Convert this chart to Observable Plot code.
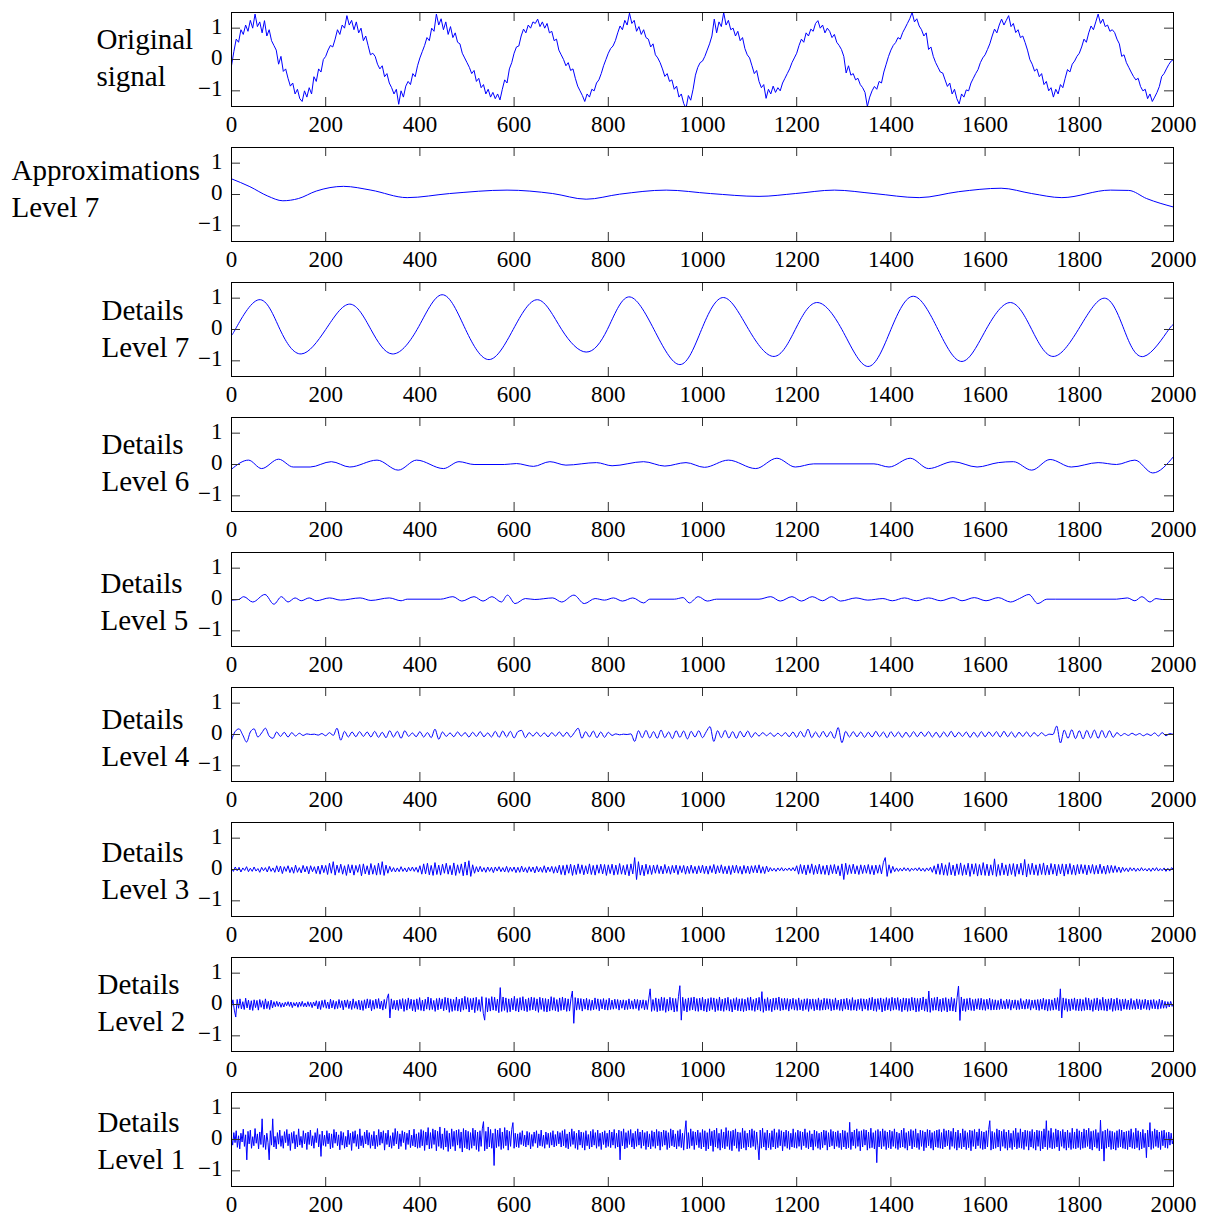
<!DOCTYPE html>
<html><head><meta charset="utf-8">
<script src="https://cdn.jsdelivr.net/npm/d3@7"></script>
<script src="https://cdn.jsdelivr.net/npm/@observablehq/plot@0.6"></script>
<style>
html,body{margin:0;background:#fff;overflow:hidden;}
#chart{width:1208px;padding-top:8px;}
#chart svg{display:block;}
</style></head><body><div id="chart"></div>
<script>
// ---------- tick labels / panel names ----------
const xTicks = [0,200,400,600,800,1000,1200,1400,1600,1800,2000];
const yTicks = [-1,0,1];
const panelNames = ["Original\nsignal","Approximations\nLevel 7","Details\nLevel 7","Details\nLevel 6","Details\nLevel 5","Details\nLevel 4","Details\nLevel 3","Details\nLevel 2","Details\nLevel 1"];

// ---------- series values (uniform samples over 0..2000, in hundredths) ----------
const originalHundredths = [
-20,25,65,55,95,80,110,90,125,100,145,105,120,85,124,75,95,60,45,30,-15,10,-38,-30,-60,-85,-75,-110,-95,-125,-134,-100,-120,-90,-110,-55,-70,-30,-40,0,
10,30,45,40,65,95,80,110,100,140,110,125,95,120,85,100,60,75,45,15,20,10,-15,-30,-20,-55,-45,-75,-90,-110,-95,-143,-100,-120,-85,-70,-80,-45,-55,-20,
5,25,45,70,60,100,90,145,110,130,95,120,80,105,70,85,55,50,20,5,-10,-25,-45,-35,-70,-60,-90,-80,-110,-95,-120,-105,-125,-110,-129,-95,-65,-75,-30,-10,
20,40,43,75,97,85,110,100,120,115,129,105,120,100,115,85,90,60,65,30,15,0,-20,-10,-35,-30,-60,-85,-100,-115,-134,-110,-120,-95,-100,-75,-65,-45,-20,0,
20,35,43,60,85,107,95,125,110,148,115,125,90,105,80,95,70,65,40,50,15,5,-10,-30,-54,-45,-70,-65,-95,-85,-120,-110,-140,-156,-115,-130,-95,-50,-25,-10,
-5,10,30,50,75,129,85,120,105,150,110,125,95,100,75,90,60,70,35,15,5,-20,-45,-35,-70,-90,-80,-124,-95,-110,-85,-105,-90,-100,-75,-60,-45,-30,-10,5,
20,45,65,55,85,75,97,90,115,124,100,110,85,100,90,70,80,55,45,32,10,-43,-20,-50,-45,-65,-60,-80,-90,-105,-150,-120,-100,-86,-95,-70,-75,-40,-15,10,
30,45,54,70,65,86,100,115,130,150,120,130,107,95,75,85,32,40,10,-10,-25,-40,-43,-65,-86,-75,-110,-95,-125,-142,-110,-120,-97,-100,-75,-60,-45,-32,-10,5,
15,32,50,75,97,85,110,129,110,125,140,105,115,86,95,70,75,54,30,0,-15,-37,-30,-55,-45,-80,-70,-100,-90,-120,-95,-110,-80,-90,-60,-32,-40,-15,-5,10,
20,40,65,55,85,107,95,120,145,115,129,105,110,90,95,86,65,50,10,15,-10,-25,-40,-54,-65,-60,-86,-100,-95,-125,-110,-134,-120,-105,-86,-54,-45,-30,-16,-5,0
];

const approx7X = [0,39,77,109,142,180,238,296,373,463,585,682,753,824,923,1017,1120,1197,1280,1364,1460,1544,1634,1699,1763,1866,1905,1943,2000];
const approx7Y = [0.5,0.25,-0.05,-0.2,-0.13,0.11,0.26,0.14,-0.1,0.03,0.14,0.03,-0.15,0.01,0.14,0.03,-0.06,0.03,0.14,0.03,-0.1,0.09,0.2,0.03,-0.1,0.14,0.13,-0.13,-0.4];

const detail7X = [0,8,58,103,148,200,251,296,341,394,447,497,547,598,650,701,753,798,843,897,952,998,1045,1098,1152,1197,1242,1296,1351,1400,1448,1500,1551,1602,1654,1699,1744,1798,1853,1895,1937,1990,2000];
const detail7Y = [-0.13,0,0.95,0,-0.78,0,0.81,0,-0.78,0,1.11,0,-0.96,0,0.95,0,-0.72,0,1.04,0,-1.12,0,1.02,0,-0.86,0,0.86,0,-1.18,0,1.06,0,-1.02,0,0.86,0,-0.86,0,1.0,0,-0.86,0,0.06];

const detail6X = [0,36,64,100,131,167,212,251,309,354,393,450,483,515,579,605,641,676,710,775,808,875,920,965,1004,1055,1113,1158,1197,1236,1364,1396,1441,1480,1532,1583,1628,1660,1699,1738,1783,1840,1879,1918,1956,2000];
const detail6Y = [-0.15,0.14,-0.13,0.17,-0.08,-0.08,0.09,-0.08,0.14,-0.18,0.14,-0.13,0.09,0,0,0.03,-0.06,0.09,-0.02,0.06,-0.04,0.09,-0.05,0.06,-0.09,0.14,-0.13,0.2,-0.08,0.02,0.02,-0.08,0.2,-0.13,0.09,-0.08,0.06,0.09,-0.18,0.16,-0.08,0.06,0,0.14,-0.27,0.25];

const detail5X = [0,15,26,45,71,90,106,120,135,148,165,180,208,232,273,296,335,360,373,444,470,489,515,534,553,573,586,602,624,644,682,701,727,749,772,792,811,830,852,875,888,940,959,972,991,1010,1030,1120,1145,1165,1190,1210,1233,1255,1274,1293,1326,1351,1383,1403,1429,1454,1480,1506,1532,1551,1577,1602,1628,1654,1673,1693,1712,1731,1750,1879,1902,1918,1933,1950,1963,1976,2000];
const detail5Y = [-0.02,0,0.09,-0.08,0.16,-0.15,0.09,-0.08,0.05,-0.04,0.05,-0.04,0.05,-0.02,0.05,-0.03,0.05,-0.04,0.01,0.01,0.09,-0.05,0.09,-0.05,0.09,-0.08,0.14,-0.13,0.03,0,0.05,-0.08,0.14,-0.13,0.03,-0.02,0.05,-0.05,0.05,-0.11,0.01,0.01,0.06,-0.11,0.09,-0.05,0.01,0.01,0.09,-0.05,0.09,-0.05,0.09,-0.04,0.09,-0.05,0.05,-0.02,0.03,-0.04,0.05,-0.04,0.05,-0.04,0.06,-0.04,0.06,-0.04,0.06,-0.08,0.03,0.16,-0.13,0.01,0.01,0.01,0.05,-0.04,0.09,-0.08,0.03,0,0];

const detail4Hundredths = [
-18,10,18,-2,-24,8,18,-8,5,20,-5,-12,8,-6,7,-8,6,-5,4,-3,2,0,1,-2,3,-4,6,-3,20,-18,
10,-8,8,-7,9,-6,8,-8,10,-9,7,-10,12,-8,10,-12,12,-6,5,-7,9,-8,6,-10,17,-15,8,-6,5,-7,
8,-5,6,-8,7,-6,9,-7,5,-8,10,-9,11,-8,10,-11,9,13,-10,6,-5,7,-6,5,-7,6,-5,8,-6,7,
-8,6,20,-12,9,-8,11,-10,8,-9,7,-3,2,-1,1,0,2,-22,12,-10,13,-11,9,-12,14,-10,8,-13,12,-9,
11,-14,10,-8,12,-10,9,25,-22,12,-10,13,-11,9,-12,10,-8,11,-9,6,-5,6,-4,5,-6,4,-5,6,-7,8,
-9,10,-8,17,-10,8,-9,10,-8,9,-12,22,-26,10,-8,9,-7,8,-9,7,-8,10,-7,8,-10,9,-7,8,-9,7,
-8,9,-7,8,-6,9,-8,7,-9,8,-7,10,-8,7,-6,8,-9,7,-8,9,-7,8,-6,9,-8,10,-7,8,-9,7,
-6,8,-7,6,-5,6,-4,1,0,27,-27,14,-12,15,-13,12,-14,13,-11,14,-12,13,-10,12,-9,6,-4,3,-3,4,
-2,3,-4,2,-3,5,-5,6,-4,3,0
];

const detail3Hundredths = [
3,-6,8,-4,7,-8,5,-3,9,-7,4,-6,8,-5,3,-9,7,-4,6,-8,10,-6,5,-9,12,
-8,11,-13,9,-6,12,-10,7,-12,14,-9,6,-11,13,-8,10,-14,12,-7,9,-13,11,-15,14,-10,
13,-16,20,-12,25,-18,14,-10,17,-15,12,-19,16,-11,15,-18,13,-9,16,-20,18,-14,12,-17,19,
-15,13,-18,20,-16,25,-19,14,-12,10,-7,6,-8,5,-7,9,-6,5,-8,7,-5,8,-6,7,-9,
12,-15,18,-14,20,-17,13,-19,22,-16,14,-18,17,-12,20,-15,13,-17,21,-19,15,-12,18,-20,24,
-18,28,-22,15,-12,9,-8,10,-7,6,-9,8,-6,7,-10,8,-5,9,-7,6,-8,10,-9,7,-6,
8,-10,7,-9,11,-8,6,-10,9,-7,8,-11,10,-8,7,-9,12,-10,8,-7,10,-12,9,-11,14,
-16,13,-18,15,-12,17,-19,14,-16,18,-13,15,-17,12,-14,18,-16,13,-18,15,-12,17,-14,16,-19,
15,-13,17,-18,14,-16,19,-15,13,-17,16,-20,18,-14,38,-32,25,-18,14,-20,17,-15,13,-16,14,
-12,15,-13,11,-14,16,-12,10,-15,13,-11,14,-16,12,-10,13,-15,11,-13,14,-12,10,-14,12,-11,
14,-13,11,-15,12,-10,16,-14,12,-11,15,-13,10,-14,12,-16,13,-11,14,-12,10,-15,13,-12,11,
-14,12,-10,13,-11,15,-12,9,-13,11,-8,6,-5,4,-6,5,-4,6,-5,4,-3,5,-4,6,-5,
12,-15,16,-13,14,-17,15,-12,18,-16,13,-14,17,-15,12,-16,14,-18,15,-13,16,-14,12,-20,18,
-32,20,-16,15,-13,17,-14,12,-16,15,-13,14,-12,16,-15,13,-17,14,-12,15,-14,22,38,-22,15,
-12,10,-7,5,-6,4,-5,6,-4,5,-6,4,-3,5,-4,6,-5,4,-6,5,-4,7,-9,12,-15,
18,-16,20,-18,15,-19,22,-17,14,-20,18,-16,21,-19,15,-17,20,-22,18,-15,19,-21,16,-18,22,
-19,17,-20,15,-18,34,-22,16,-19,21,-17,15,-20,18,-16,19,-22,17,-15,20,-18,32,-24,18,-16,
20,-17,15,-19,18,-16,21,-18,14,-17,19,-15,17,-20,16,-14,18,-21,17,-15,19,-16,14,-18,16,
-14,16,-13,15,-17,14,-12,16,-15,13,-14,17,-13,11,-15,14,-12,13,-10,12,-9,8,-10,7,-6,
5,-7,6,-4,5,-6,4,-5,6,-4,3,-5,4,-6,5,-4,6,-5,3,-4,5,-6,4,-5,6,
0
];

const detail2Hundredths = [
-8,15,-18,-40,16,-12,18,-14,9,-16,20,-11,14,-17,12,-19,15,-10,13,-18,16,-9,12,-15,18,-13,10,-16,14,-11,
9,-7,10,-6,8,-9,5,-8,7,-4,9,-6,8,-10,6,-5,7,-9,8,-6,10,-7,5,-8,9,-6,7,-10,8,-5,
12,-14,10,-16,13,-9,15,-12,8,-14,17,-11,13,-15,10,-13,16,-10,12,-17,14,-9,15,-13,11,-16,18,-12,10,-15,
14,-17,12,-19,15,-13,18,-11,16,-20,13,-15,17,-12,19,-14,11,-18,16,-13,20,34,-43,18,-15,13,-17,14,-19,16,
-14,19,-22,16,-18,21,-13,17,-20,15,-23,18,-16,22,-19,14,-21,17,-15,24,-18,20,-16,13,-22,19,-17,21,-14,18,
-20,23,-17,21,-25,18,-22,16,-19,24,-21,17,-23,20,-18,26,-15,22,-24,19,-17,21,-26,23,-19,16,-22,25,-28,-50,
22,-24,19,-21,25,-18,23,-20,17,-26,54,-22,24,-19,21,-25,18,-23,20,-17,26,-21,19,-24,22,-18,25,-20,17,-23,
21,-19,24,-17,22,-20,18,-25,23,-16,20,-22,19,-24,17,-21,25,-18,22,-20,16,-23,21,-19,24,-17,20,-22,18,-21,
19,43,-60,22,-18,20,-16,19,-21,17,-15,20,-18,16,-19,14,-17,21,-15,18,-20,16,-14,19,-17,15,-18,20,-16,14,
-15,17,-13,16,-18,14,-12,15,-17,13,-16,18,-14,12,-15,17,-13,16,-19,14,-12,15,-17,13,-16,18,50,-22,16,-19,
21,-23,18,-20,24,-19,22,-25,17,-21,23,-18,20,-24,19,-22,25,60,-50,23,-20,18,-24,21,-19,22,-17,24,-21,19,
-22,20,-18,23,-21,17,-24,19,-20,22,-16,21,-23,18,-19,24,-20,17,-22,20,-18,23,-21,16,-24,19,-17,22,-20,18,
-21,19,-23,17,-20,22,-18,24,-19,16,-22,20,-17,23,-21,41,-25,18,-20,22,-19,17,-23,20,-18,21,-16,24,-20,19,
-18,20,-16,19,-21,17,-15,20,-18,16,-19,21,-17,15,-20,18,-16,19,-22,17,-15,18,-20,16,-17,21,-19,15,-18,20,
-17,19,-15,18,-20,16,-18,21,-16,14,-19,17,-21,18,-15,20,-17,16,-19,22,-18,15,-20,17,-16,19,-21,18,-15,17,
-19,21,-17,23,-20,18,-22,19,-16,21,-24,18,-20,22,-17,19,-21,23,-18,20,-16,22,-19,17,-23,21,-18,20,-22,19,
-20,23,-18,21,-24,19,-22,20,-17,24,-21,18,-23,43,-25,20,-19,22,-18,24,-21,17,-23,20,-19,22,-24,18,-20,23,
-21,19,-24,22,59,-51,24,-20,18,-22,19,-17,21,-19,16,-20,18,-15,19,-17,20,-18,16,-19,17,-15,20,-18,16,-17,
15,-17,13,-16,18,-14,12,-15,17,-13,16,-18,14,-12,15,-17,13,-16,19,-14,12,-15,17,-13,16,-18,14,-12,15,-17,
16,-19,17,-15,20,-18,16,-21,17,-19,15,-18,20,-16,22,-20,50,-43,21,-18,19,-22,17,-20,18,-16,21,-19,17,-20,
18,-21,16,-19,22,-17,20,-18,15,-22,19,-17,21,-20,16,-18,23,-19,17,-21,18,-16,20,-22,17,-19,21,-18,16,-20,
17,-15,18,-16,14,-17,19,-15,13,-16,18,-14,16,-17,15,-13,17,-16,14,-18,15,-13,16,-14,12,-15,17,-13,14,-12,
10,-12,9,-8,10,-6,0
];

const detail1Hundredths = [
5,-18,22,-10,28,-25,12,-30,20,-8,33,-22,15,-65,26,-14,30,-28,9,-20,35,-12,18,-30,24,-16,66,-25,14,-32,20,-10,-65,28,-18,66,-24,10,-30,22,
-15,30,-22,12,-28,25,-10,32,-20,18,-35,22,-12,26,-30,15,-24,34,-18,10,-26,28,-14,20,-32,24,-16,30,-20,12,-28,22,-10,35,-24,16,-54,27,-19,14,
-22,28,-14,20,-30,18,-26,32,-12,24,-20,15,-33,26,-18,22,-28,10,-24,30,-16,20,-35,25,-12,28,-22,16,-30,34,-20,12,-26,24,-14,30,-18,22,-28,15,
-20,26,-30,14,-22,32,-18,24,-12,28,-34,20,-16,30,-24,12,-28,22,-20,35,-14,26,-30,18,-22,28,-10,24,-32,20,-16,30,-26,14,-20,33,-24,18,-28,22,
-26,32,-20,28,-35,24,-18,38,-30,22,-28,34,-16,30,-36,26,-22,40,-28,18,-32,36,-24,28,-38,20,-30,34,-22,26,-36,30,-18,32,-28,24,-40,35,-26,30,
-30,26,-34,22,-28,36,-20,30,-32,24,-38,28,-22,34,57,-36,26,-30,40,-24,32,-28,20,-83,34,-26,30,-22,36,-32,24,-28,38,-20,30,-34,26,-22,32,54,
-28,20,-24,18,-26,22,-16,28,-20,14,-24,26,-18,22,-30,16,-22,24,-12,28,-26,18,-20,30,-22,14,-28,24,-16,20,-26,22,-18,28,-24,16,-20,26,-14,22,
-24,28,-20,32,-26,18,-30,24,-22,34,-16,26,-28,20,-32,30,-18,24,-26,22,-34,28,-20,16,-30,26,-24,32,-18,22,-28,30,-22,20,-32,24,-16,28,-26,20,
-22,30,-26,24,-18,32,-28,20,-24,30,-65,26,-20,34,-30,22,-26,28,-16,32,-24,20,-30,26,-22,34,-18,24,-28,30,-20,22,-32,26,-24,18,-30,28,-22,24,
-28,32,-20,26,-34,24,-22,30,-18,28,-32,22,-26,34,-20,30,-24,18,-30,28,-22,32,-26,20,-34,24,60,-30,22,-28,34,-20,26,-32,24,-18,30,-26,22,-30,
32,-24,28,-36,22,-30,34,-20,26,-38,30,-24,36,-28,20,-34,32,-26,24,-30,38,-22,28,-32,26,-36,30,-20,34,-28,24,-38,22,-30,36,-26,28,-34,20,-24,
30,-26,34,-22,28,-32,24,-20,-65,30,-28,36,-24,22,-34,30,-26,20,-32,28,-24,34,-30,22,-26,32,-20,28,-36,24,-22,30,-28,26,-32,20,-24,34,-26,22,
-28,30,-22,26,-32,24,-20,34,-26,22,-30,28,-24,18,-34,30,-22,26,-28,20,-32,24,-26,30,-18,28,-34,22,-24,32,-20,26,-30,24,-22,28,-26,20,-32,30,
-24,28,-30,22,-26,55,-32,24,-20,30,-28,34,-22,26,-36,28,-24,32,-18,30,-34,24,-28,36,-26,22,-30,28,-74,32,-24,26,-30,34,-22,28,-32,24,-26,30,
-30,26,-22,34,-28,24,-32,20,-26,30,-24,36,-28,22,-34,26,-20,32,-30,28,-24,34,-26,20,-32,30,-22,28,-36,24,-26,32,-20,30,-28,22,-34,26,-24,30,
-26,32,-28,22,-30,34,-24,28,-20,30,-32,26,-22,36,-28,24,-34,30,-26,20,-30,34,-24,28,-32,22,-26,30,-36,28,-22,32,-30,24,-20,34,-28,26,-32,24,
-30,28,-24,32,60,-34,26,-30,22,-28,34,-24,30,-36,26,-22,32,-28,24,-34,30,-26,20,-32,28,-24,36,-30,22,-26,34,-28,24,-32,30,-22,28,-34,26,-24,
32,-28,24,-34,30,-22,28,-36,26,-30,34,-24,60,-32,28,-26,36,-30,22,-28,34,-24,30,-36,26,-22,32,-28,24,-34,30,-26,22,-32,36,-28,24,-30,34,-26,
28,-32,24,-28,34,-26,30,-22,36,-30,26,-34,28,-24,32,-28,22,-36,62,-30,26,-69,30,-28,34,-24,28,-32,26,-30,22,-34,28,-26,32,-24,30,-28,24,-30,
26,-32,28,-24,34,-28,22,-30,36,-26,28,-34,24,-30,32,-26,20,-58,30,-24,54,-32,26,-28,34,-22,30,-26,24,-32,28,-20,30,-26,22,-28,24,-18,20,-14,
0
];

// ---------- layout (kept apart from the data) ----------
const W = 1208, H = 135, ML = 231, MR = 35, MT = 4, MB = 37;
const labelLeft = [96, 11, 101, 101, 100, 101, 101, 97, 97];
const labelShift = [-4, -8, -3, -4, 0, 1, -1, -4, -1];
const BLUE = "#0000ff";

function uniform(vals) {
  const n = vals.length;
  return vals.map((v, i) => ({x: i * 2000 / (n - 1), y: v / 100}));
}
function paired(xs, ys) {
  return xs.map((x, i) => ({x, y: ys[i]}));
}

const panels = [
  {data: uniform(originalHundredths), curve: "linear"},
  {data: paired(approx7X, approx7Y), curve: "monotone-x"},
  {data: paired(detail7X, detail7Y), curve: "natural"},
  {data: paired(detail6X, detail6Y), curve: "monotone-x"},
  {data: paired(detail5X, detail5Y), curve: "monotone-x"},
  {data: uniform(detail4Hundredths), curve: "monotone-x"},
  {data: uniform(detail3Hundredths), curve: "linear"},
  {data: uniform(detail2Hundredths), curve: "linear"},
  {data: uniform(detail1Hundredths), curve: "linear"}
];

const fmtY = d => d < 0 ? "\u2212" + (-d) : String(d);
const root = document.getElementById("chart");
const innerW = W - ML - MR, innerH = H - MT - MB, tickLen = 9;

panels.forEach((p, i) => {
  const svg = Plot.plot({
    width: W, height: H,
    marginLeft: ML, marginRight: MR, marginTop: MT, marginBottom: MB,
    style: {fontFamily: "'Liberation Serif', 'Times New Roman', serif", fontSize: "23px", background: "#fff", color: "#000"},
    x: {domain: [0, 2000], label: null},
    y: {domain: [-1.5, 1.5], label: null},
    marks: [
      Plot.line(p.data, {x: "x", y: "y", stroke: BLUE, strokeWidth: 1, curve: p.curve, clip: true}),
      Plot.tickX(xTicks, {x: d => d, stroke: "#333", insetBottom: innerH - tickLen}),
      Plot.tickX(xTicks, {x: d => d, stroke: "#333", insetTop: innerH - tickLen}),
      Plot.tickY(yTicks, {y: d => d, stroke: "#333", insetRight: innerW - tickLen}),
      Plot.tickY(yTicks, {y: d => d, stroke: "#333", insetLeft: innerW - tickLen}),
      Plot.frame({stroke: "#000", strokeWidth: 1}),
      Plot.axisX(xTicks, {anchor: "bottom", label: null, tickSize: 0, tickPadding: 9, tickFormat: d => String(d), fontSize: 23}),
      Plot.axisY(yTicks, {anchor: "left", label: null, tickSize: 0, tickPadding: 9, dy: -2, tickFormat: fmtY, fontSize: 23}),
      Plot.text([panelNames[i]], {
        text: d => d, frameAnchor: "left", textAnchor: "start", lineAnchor: "middle",
        dx: labelLeft[i] - ML, dy: labelShift[i], lineHeight: 1.28, fontSize: 29, fill: "#000"
      })
    ]
  });
  root.append(svg);
});
</script>
</body></html>
